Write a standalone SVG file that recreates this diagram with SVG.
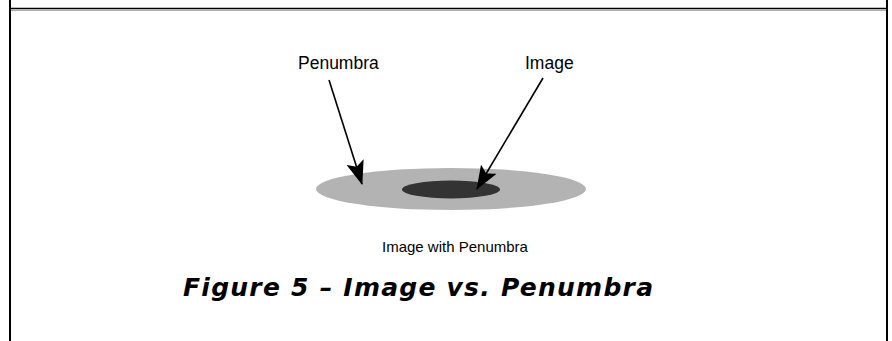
<svg xmlns="http://www.w3.org/2000/svg" width="892" height="341" viewBox="0 0 892 341">
<style>
.lbl{font-family:"Liberation Sans",Arial,sans-serif;fill:#000}
.cap{font-family:"DejaVu Sans",sans-serif;font-weight:bold;font-style:italic;fill:#000}
.arr{stroke:#000;stroke-width:1.6;fill:none}
</style>
<defs>
<marker id="ah" markerUnits="userSpaceOnUse" markerWidth="24" markerHeight="18" viewBox="0 0 24 18" refX="23" refY="9" orient="auto">
<path d="M0,0 L24,9 L0,18 L5,9 Z" fill="#000"/>
</marker>
</defs>
<rect width="892" height="341" fill="#fff"/>
<g id="frame">
<line x1="10" y1="0" x2="10" y2="341" stroke="#000" stroke-width="2"/>
<line x1="887" y1="0" x2="887" y2="341" stroke="#000" stroke-width="2"/>
<line x1="10" y1="8.5" x2="887" y2="8.5" stroke="#000" stroke-width="1.5"/>
<line x1="11" y1="10.3" x2="886" y2="10.3" stroke="#9a9a9a" stroke-width="1"/>
</g>
<g id="penumbra-shape"><ellipse cx="451" cy="189" rx="135" ry="21" fill="#b3b3b3"/></g>
<g id="image-shape"><ellipse cx="451" cy="189.5" rx="49" ry="9" fill="#333"/></g>
<g id="connectors">
<line class="arr" x1="329" y1="80" x2="362" y2="184" marker-end="url(#ah)"/>
<line class="arr" x1="543" y1="78" x2="477" y2="189" marker-end="url(#ah)"/>
</g>
<g id="label-penumbra"><text class="lbl" x="298" y="69" font-size="17.5">Penumbra</text></g>
<g id="label-image"><text class="lbl" x="525" y="69" font-size="17.5">Image</text></g>
<g id="label-caption"><text class="lbl" x="382" y="252" font-size="15">Image with Penumbra</text></g>
<g id="figure-title"><text class="cap" x="183" y="296" font-size="25" textLength="470" lengthAdjust="spacing">Figure 5 – Image vs. Penumbra</text></g>
</svg>
